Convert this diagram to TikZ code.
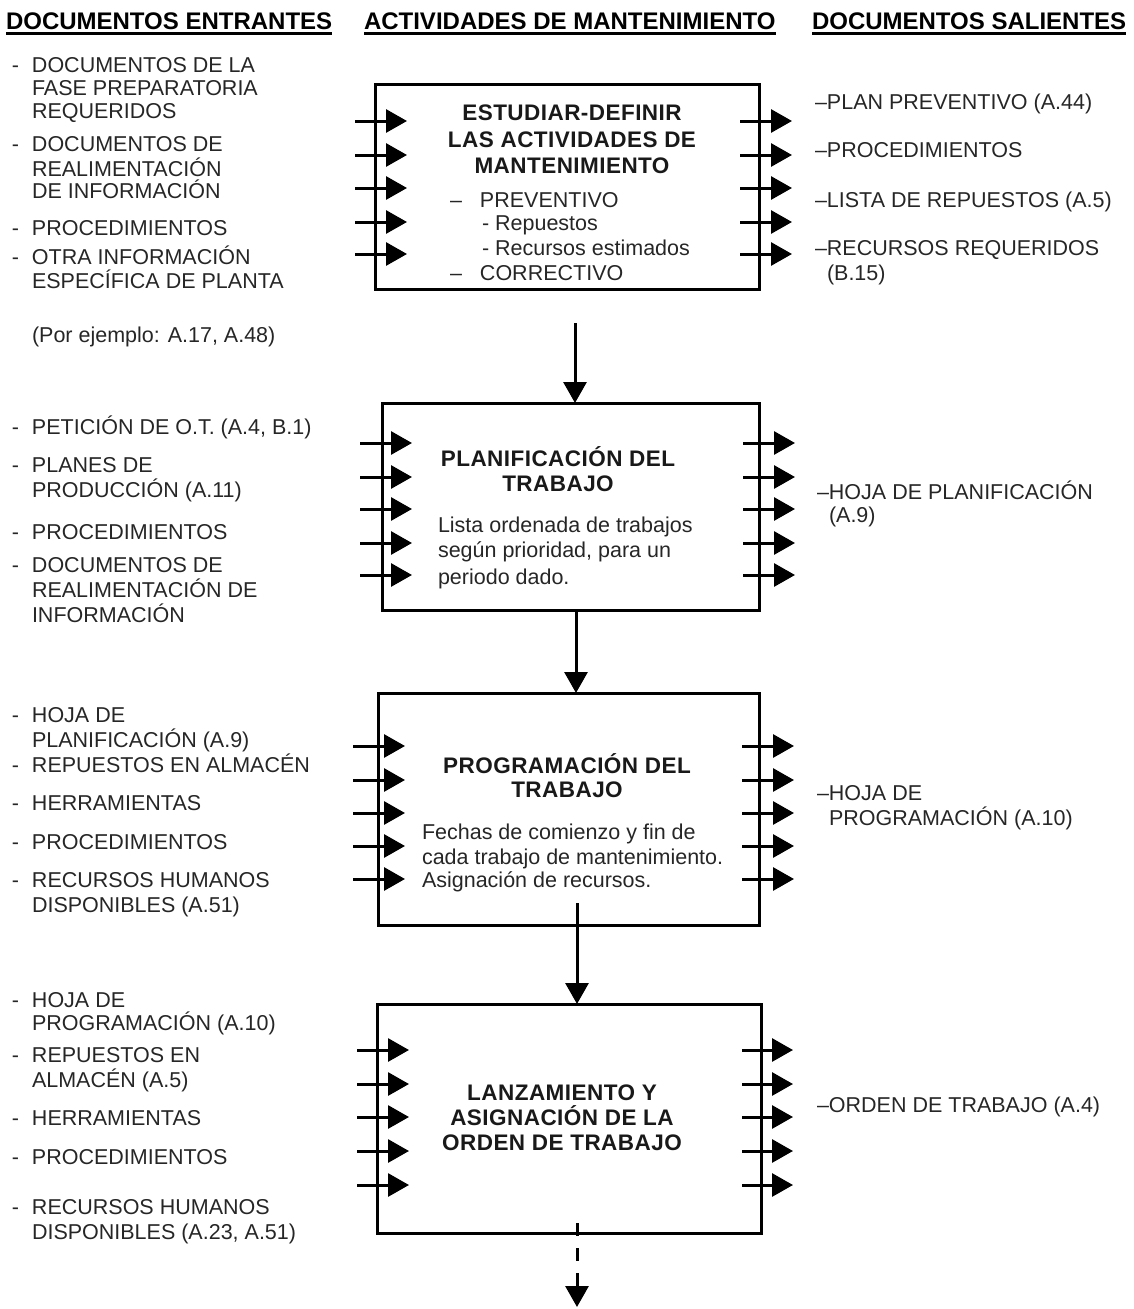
\documentclass[tikz,border=0pt]{standalone}
\usepackage{fontspec}
\setmainfont{Liberation Sans}
\usetikzlibrary{arrows.meta}
\newcommand\lftdash{\makebox[20pt][l]{-}}
\newcommand\boxdash{\makebox[30pt][l]{–}}
\begin{document}
\begin{tikzpicture}[x=1pt,y=-1pt,
  every node/.style={inner sep=0pt,outer sep=0pt},
  txt/.style={anchor=west,text height=15pt,text depth=0pt,font=\fontsize{21.5}{24}\selectfont,text=black!85},
  ttl/.style={anchor=center,text height=16pt,text depth=0pt,font=\fontsize{22.5}{25}\selectfont\bfseries\addfontfeatures{LetterSpace=2},text=black!90},
  hdr/.style={anchor=west,text height=17pt,text depth=0pt,font=\fontsize{24}{26}\selectfont\bfseries},
  uline/.style={line width=2.5pt},
  procbox/.style={draw,line width=3pt},
  arr/.style={line width=3pt,-{Triangle[length=21pt,width=23pt]}},
]
\useasboundingbox (0,0) rectangle (1134,1309);

% headers
\node[hdr] (h1) at (6,21) {DOCUMENTOS ENTRANTES};
\node[hdr] (h2) at (364,21) {ACTIVIDADES DE MANTENIMIENTO};
\node[hdr] (h3) at (812,21) {DOCUMENTOS SALIENTES};
\foreach \h in {h1,h2,h3}
  \draw[uline] ([yshift=-4pt]\h.south west) -- ([yshift=-4pt]\h.south east);

% boxes
\node[procbox,minimum width=384pt,minimum height=205pt] (b1) at (567,186.5) {};
\node[procbox,minimum width=377pt,minimum height=207pt] (b2) at (570.5,506.5) {};
\node[procbox,minimum width=381pt,minimum height=232pt] (b3) at (568.5,809) {};
\node[procbox,minimum width=384pt,minimum height=229pt] (b4) at (569,1118.5) {};

% box 1 text
\node[ttl] (t1a) at (572,112) {ESTUDIAR-DEFINIR};
\node[ttl] (t1b) at (572,139) {LAS ACTIVIDADES DE};
\node[ttl] (t1c) at (572,165) {MANTENIMIENTO};
\node[txt] (t1d) at (450,200) {\boxdash PREVENTIVO};
\node[txt] (t1e) at (482,223) {- Repuestos};
\node[txt] (t1f) at (482,248) {- Recursos estimados};
\node[txt] (t1g) at (450,273) {\boxdash CORRECTIVO};

% box 2 text
\node[ttl] (t2a) at (558,458) {PLANIFICACIÓN DEL};
\node[ttl] (t2b) at (558,483) {TRABAJO};
\node[txt] (t2c) at (438,525) {Lista ordenada de trabajos};
\node[txt] (t2d) at (438,550) {según prioridad, para un};
\node[txt] (t2e) at (438,577) {periodo dado.};

% box 3 text
\node[ttl] (t3a) at (567,765) {PROGRAMACIÓN DEL};
\node[ttl] (t3b) at (567,789) {TRABAJO};
\node[txt] (t3c) at (422,832) {Fechas de comienzo y fin de};
\node[txt] (t3d) at (422,857) {cada trabajo de mantenimiento.};
\node[txt] (t3e) at (422,880) {Asignación de recursos.};

% box 4 text
\node[ttl] (t4a) at (562,1092) {LANZAMIENTO Y};
\node[ttl] (t4b) at (562,1117) {ASIGNACIÓN DE LA};
\node[ttl] (t4c) at (562,1142) {ORDEN DE TRABAJO};

% incoming documents
\foreach \xx/\yy/\t [count=\i] in {
  12/65/{\lftdash DOCUMENTOS DE LA},
  32/88/{FASE PREPARATORIA},
  32/111/{REQUERIDOS},
  12/144/{\lftdash DOCUMENTOS DE},
  32/169/{REALIMENTACIÓN},
  32/191/{DE INFORMACIÓN},
  12/228/{\lftdash PROCEDIMIENTOS},
  12/257/{\lftdash OTRA INFORMACIÓN},
  32/281/{ESPECÍFICA DE PLANTA},
  32/335/{(Por ejemplo: A.17, A.48)},
  12/427/{\lftdash PETICIÓN DE O.T. (A.4, B.1)},
  12/465/{\lftdash PLANES DE},
  32/490/{PRODUCCIÓN (A.11)},
  12/532/{\lftdash PROCEDIMIENTOS},
  12/565/{\lftdash DOCUMENTOS DE},
  32/590/{REALIMENTACIÓN DE},
  32/615/{INFORMACIÓN},
  12/715/{\lftdash HOJA DE},
  32/740/{PLANIFICACIÓN (A.9)},
  12/765/{\lftdash REPUESTOS EN ALMACÉN},
  12/803/{\lftdash HERRAMIENTAS},
  12/842/{\lftdash PROCEDIMIENTOS},
  12/880/{\lftdash RECURSOS HUMANOS},
  32/905/{DISPONIBLES (A.51)},
  12/1000/{\lftdash HOJA DE},
  32/1023/{PROGRAMACIÓN (A.10)},
  12/1055/{\lftdash REPUESTOS EN},
  32/1080/{ALMACÉN (A.5)},
  12/1118/{\lftdash HERRAMIENTAS},
  12/1157/{\lftdash PROCEDIMIENTOS},
  12/1207/{\lftdash RECURSOS HUMANOS},
  32/1232/{DISPONIBLES (A.23, A.51)}}
  \node[txt] (in\i) at (\xx,\yy) {\t};

% outgoing documents
\foreach \xx/\yy/\t [count=\i] in {
  815/102/{–PLAN PREVENTIVO (A.44)},
  815/150/{–PROCEDIMIENTOS},
  815/200/{–LISTA DE REPUESTOS (A.5)},
  815/248/{–RECURSOS REQUERIDOS},
  827/273/{(B.15)},
  817/492/{–HOJA DE PLANIFICACIÓN},
  829/515/{(A.9)},
  817/793/{–HOJA DE},
  829/818/{PROGRAMACIÓN (A.10)},
  817/1105/{–ORDEN DE TRABAJO (A.4)}}
  \node[txt] (out\i) at (\xx,\yy) {\t};

% input / output arrow stubs
\foreach \yy in {121,155,188,222,254} {
  \draw[arr] (355,\yy) -- (407,\yy);
  \draw[arr] (740,\yy) -- (792,\yy);}
\foreach \yy in {443,477,509,543,575} {
  \draw[arr] (360,\yy) -- (412,\yy);
  \draw[arr] (743,\yy) -- (795,\yy);}
\foreach \yy in {746,780,813,846,879} {
  \draw[arr] (353,\yy) -- (405,\yy);
  \draw[arr] (742,\yy) -- (794,\yy);}
\foreach \yy in {1050,1084,1117,1151,1185} {
  \draw[arr] (357,\yy) -- (409,\yy);
  \draw[arr] (742,\yy) -- (793,\yy);}

% flow arrows
\coordinate (s12) at (575,323);
\draw[arr] (s12) -- (s12 |- b2.north);
\coordinate (s23) at (576,610);
\draw[arr] (s23) -- (s23 |- b3.north);
\coordinate (s34) at (577,903);
\draw[arr] (s34) -- (s34 |- b4.north);
\coordinate (s4) at (577,1223);
\coordinate (e4) at (577,1307);
\draw[arr,dash pattern=on 13pt off 12pt] (s4) -- (e4);
\end{tikzpicture}
\end{document}
